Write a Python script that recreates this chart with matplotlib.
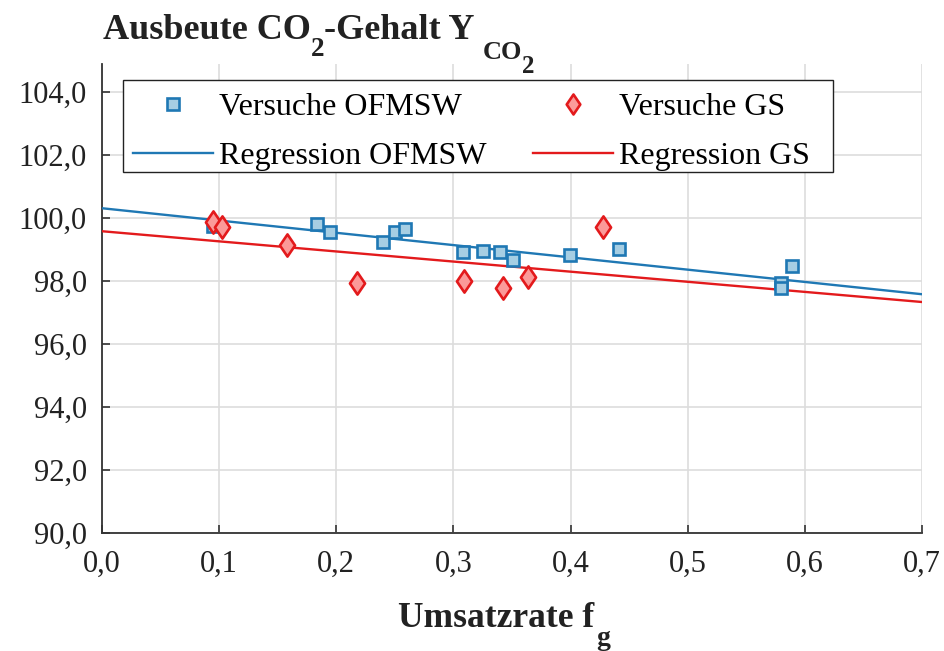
import matplotlib
matplotlib.use("Agg")
import matplotlib.pyplot as plt
import numpy as np
from matplotlib.ticker import FuncFormatter
from matplotlib.path import Path
from matplotlib.patches import Rectangle

plt.rcParams['font.family'] = ['Liberation Serif', 'DejaVu Serif']

# Data
ofmsw_x = [0.0948, 0.1833, 0.1946, 0.2401, 0.2501, 0.2589, 0.3084, 0.3255,
           0.3398, 0.3506, 0.3995, 0.4413, 0.5893, 0.5796, 0.5800]
ofmsw_y = [99.75, 99.80, 99.57, 99.25, 99.57, 99.64, 98.93, 98.96,
           98.93, 98.67, 98.83, 99.01, 98.48, 97.94, 97.78]
gs_x = [0.0950, 0.1022, 0.1577, 0.2180, 0.3093, 0.3426, 0.3637, 0.4279]
gs_y = [99.88, 99.70, 99.14, 97.95, 98.00, 97.77, 98.12, 99.70]

# Regression (intercept, slope)
reg_ofmsw = (100.31, -3.90)
reg_gs = (99.58, -3.21)

x_ticks = [0.0, 0.1, 0.2, 0.3, 0.4, 0.5, 0.6, 0.7]
y_ticks = [90, 92, 94, 96, 98, 100, 102, 104]

blue_line = '#1f78b4'
blue_face = '#a6cee3'
red_line = '#e31a1c'
red_face = '#fb9a99'
text_col = '#222222'

W, H = 944, 651
fig = plt.figure(figsize=(W/100, H/100), dpi=100)
ax_top = 63.5
ax = fig.add_axes([102/W, 1-533/H, 820/W, (533-ax_top)/H])

diamond = Path([(0, 1), (0.68, 0), (0, -1), (-0.68, 0), (0, 1)],
               [Path.MOVETO, Path.LINETO, Path.LINETO, Path.LINETO, Path.CLOSEPOLY])

xs = np.array([0.0, 0.7])
ax.plot(xs, reg_ofmsw[0] + reg_ofmsw[1]*xs, color=blue_line, lw=1.7,
        label='Regression OFMSW', zorder=3)
ax.plot(xs, reg_gs[0] + reg_gs[1]*xs, color=red_line, lw=1.7,
        label='Regression GS', zorder=3)
ax.plot(ofmsw_x, ofmsw_y, ls='none', marker='s', ms=9.3, mfc=blue_face,
        mec=blue_line, mew=1.9, label='Versuche OFMSW', zorder=4)
ax.plot(gs_x, gs_y, ls='none', marker=diamond, ms=16, mfc=red_face,
        mec=red_line, mew=1.9, label='Versuche GS', zorder=5)

ax.set_xlim(0, 0.7)
ax.set_ylim(90, 104 + (92 - ax_top) / 31.5)
ax.set_xticks(x_ticks)
ax.set_yticks(y_ticks)
comma = lambda fmt: FuncFormatter(lambda v, p: (fmt % v).replace('.', ','))
ax.xaxis.set_major_formatter(comma('%.1f'))
ax.yaxis.set_major_formatter(comma('%.1f'))

ax.grid(True, color='#dddddd', lw=1.2, zorder=0)
ax.set_axisbelow(True)
for s in ['top', 'right']:
    ax.spines[s].set_visible(False)
for s in ['left', 'bottom']:
    ax.spines[s].set_color('#333333')
    ax.spines[s].set_linewidth(1.3)
ax.tick_params(direction='in', length=6, width=1.2, color='#333333',
               labelsize=22, labelcolor=text_col)
ax.tick_params(axis='y', pad=11)
ax.tick_params(axis='x', pad=12)

# legend box (drawn separately for exact size)
box = Rectangle((123/W, 1-172/H), (833-123)/W, (172-80)/H, transform=fig.transFigure,
                facecolor='white', edgecolor='#222222', lw=1.0, zorder=6)
fig.add_artist(box)

h, l = ax.get_legend_handles_labels()
order = [2, 0, 3, 1]
leg = fig.legend([h[i] for i in order], [l[i] for i in order], ncol=2,
                 loc='upper left', bbox_to_anchor=(123/W, 1-83/H),
                 fontsize=23, frameon=False, handlelength=2.5, handletextpad=0.2,
                 columnspacing=1.45, labelspacing=0.6, borderpad=0.31,
                 borderaxespad=0, markerscale=0.9)
leg.set_zorder(7)


def rich_text(x0, y0, pieces, ha='left'):
    """pieces: (text, fontsize, baseline offset px downward, extra gap px before)."""
    renderer = fig.canvas.get_renderer()
    objs = []
    x = 0.0
    for txt, fs, dy, gap in pieces:
        x += gap
        t = fig.text(0, 0, txt, fontsize=fs, fontweight='bold', color=text_col,
                     ha='left', va='baseline')
        w = t.get_window_extent(renderer).width
        objs.append((t, x, dy))
        x += w
    total = x
    start = x0 - (total / 2 if ha == 'center' else 0)
    for t, xo, dy in objs:
        t.set_position(((start + xo)/W, 1 - (y0 + dy)/H))


rich_text(103, 39, [('Ausbeute CO', 26, 0, 0), ('2', 19.5, 17, 0),
                    ('-Gehalt Y ', 26, 0, 0), ('CO', 19, 20, 0), ('2', 18, 34, 0)])
rich_text(504, 627, [('Umsatzrate f', 25.5, 0, 0), ('g', 20, 18, 3)], ha='center')

fig.savefig('out.png', dpi=100)
